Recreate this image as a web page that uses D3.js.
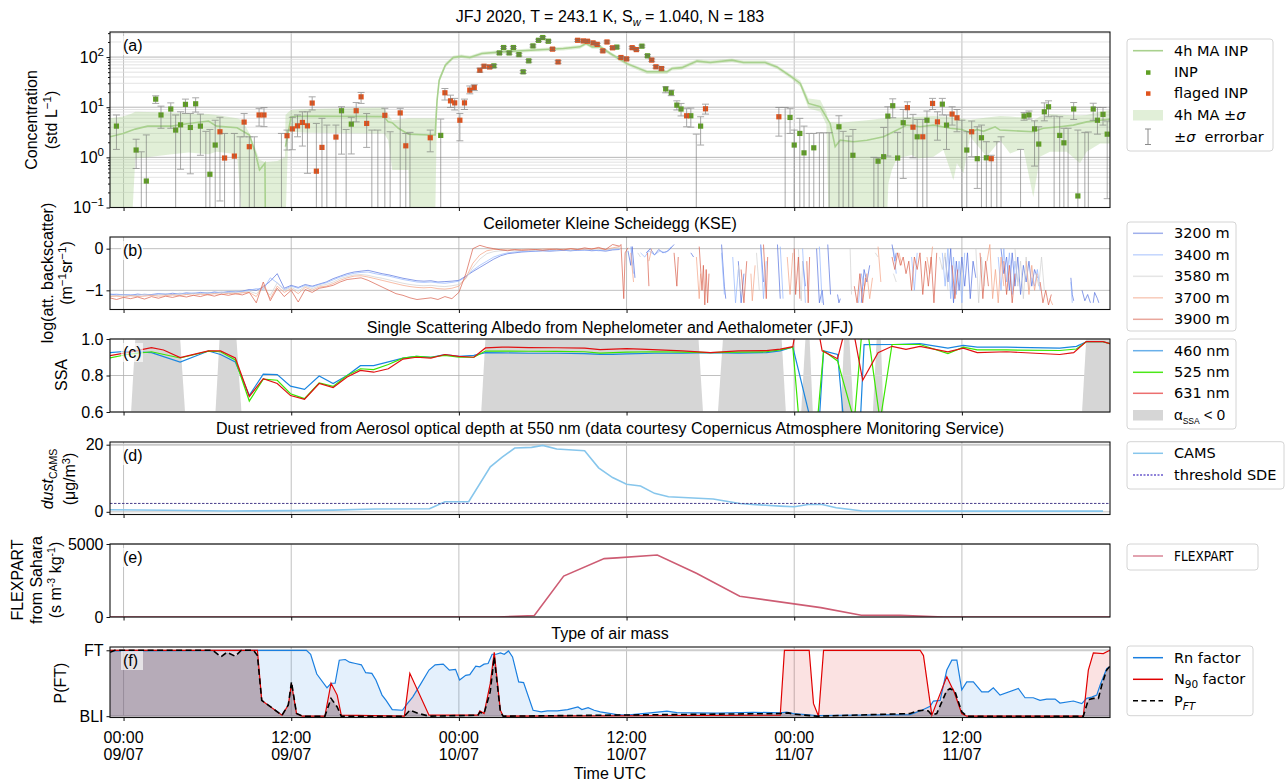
<!DOCTYPE html>
<html><head><meta charset="utf-8">
<script src="https://cdn.jsdelivr.net/npm/d3@7/dist/d3.min.js"></script>
<style>html,body{margin:0;padding:0;background:#fff;}svg{display:block;}</style>
</head><body>
<svg id="chart" width="1287" height="783"></svg>
<script>
// ================= DATA =================
const xTickHours = [0, 12, 24, 36, 48, 60];          // hours after 09/07 00:00 UTC
const xTickTimes = ["00:00","12:00","00:00","12:00","00:00","12:00"];
const xTickDates = ["09/07","09/07","10/07","10/07","11/07","11/07"];

// (a) INP: [hour, conc, low(0 = below axis), high]
const inpPoints = [
[-0.51,4.2,1.44,7.0],[0.9,1.4,0.6,2.3],[1.27,0.05,0,1.29],[1.63,0.337,0,2.8],[2.3,14.5,11.9,16.9],[2.68,7.0,3.8,10.5],
[3.38,9.2,3.8,12.2],[3.73,3.5,0,7.0],[4.08,4.45,0.58,8.1],[4.43,11.4,7.5,14.5],[4.78,3.95,0.47,7.5],[5.16,11.7,8.0,15.4],
[5.5,4.2,1.1,7.3],[5.89,0.05,0,3.3],[6.18,0.46,0,3.6],[6.56,1.76,0,5.5],[15.6,8.5,1.16,10.2],[15.93,0.05,0,3.6],
[16.3,4.6,1.17,6.3],[22.7,2.74,0,5.8],[26.5,66.8,62,71],[26.9,121,114,128],[27.2,155,147,163],[27.6,121,114,128],
[27.9,155,147,163],[28.3,112,105,119],[28.6,50.8,47,54],[29.0,84,79,89],[29.3,167,158,176],[29.7,216,205,227],
[30.0,245,233,257],[30.4,207,196,218],[35.3,158,150,166],[37.1,165,157,173],[37.5,106,100,112],[38.8,23.2,19.4,25.5],
[39.2,19.4,17,22],[39.6,11.0,8.8,13.4],[39.9,9.2,6.7,11.9],[40.6,6.75,4.0,9.6],[40.99,0.05,0,2.9],[41.3,4.2,1.76,6.45],
[47.35,0.05,0,9.9],[47.7,6.25,3.0,9.5],[48.0,1.76,0,3.5],[48.4,3.0,0,6.0],[48.7,1.23,0,4.2],[49.07,0.05,0,3.0],
[49.4,1.55,0,3.0],[49.8,0.05,0,3.1],[50.1,0.05,0,3.1],[50.5,0.05,0,3.1],[51.2,4.07,0,6.75],[51.5,0.05,0,3.3],
[51.9,0.05,0,2.65],[52.2,1.1,0,3.6],[53.7,0.05,0,1.0],[54.0,0.84,0,0.98],[54.4,1.03,0,3.96],[54.7,6.65,1.06,10.2],
[55.05,10.7,6.16,14.7],[55.4,0.97,0,3.15],[55.8,4.9,0.38,9.0],[56.8,2.57,0,5.7],[57.5,5.5,0,8.4],[58.6,11.5,7.0,15.0],
[58.9,4.4,1.44,7.0],[60.0,0.05,0,5.5],[60.35,1.4,0,3.24],[61.1,0.94,0.24,4.07],[61.4,2.46,0,4.4],[61.75,0.98,0,2.05],
[62.5,0.05,0,2.05],[62.8,0.05,0,2.57],[64.2,0.05,0,1.44],[64.45,6.65,5.5,7.8],[64.8,7.0,5.8,8.4],[65.2,3.7,0.67,5.35],
[65.5,1.84,0,4.07],[65.9,8.1,5.35,12.2],[66.2,10.2,6.45,13.4],[66.6,0.05,0,6.65],[67.0,2.74,0,6.45],[67.3,1.95,0,3.8],
[67.6,0.05,0,3.8],[68.0,9.2,5.7,12.4],[68.3,0.17,0,3.5],[68.8,0.05,0,3.15],[69.05,0.05,0,3.2],[69.4,9.2,5.5,12.0],
[69.7,5.5,2.9,9.9],[70.1,7.2,4.4,9.9],[70.4,2.9,0.15,5.3]
];
const flaggedPoints = [
[6.9,3.24,0.135,6.3],[7.23,0.97,0,3.0],[7.93,1.06,0,3.0],[8.34,0.05,0,2.57],[8.63,5.05,2.57,7.5],[9.0,1.63,0,2.57],
[9.36,0.05,0,2.57],[9.7,7.0,4.2,9.5],[10.05,7.0,4.1,9.8],[11.3,0.05,0,3.0],[11.7,2.7,1.4,3.5],[12.08,3.7,1.42,6.3],
[12.45,4.25,2.57,7.0],[12.8,4.97,1.68,8.1],[13.16,4.25,0.48,8.1],[13.5,12.1,8.8,16.1],[13.8,0.53,0,4.75],[14.2,1.58,0,6.0],
[14.55,0.05,0,4.4],[15.2,2.54,0,4.4],[16.65,8.5,5.1,12.4],[17.0,16.1,11.9,19.7],[17.4,4.75,1.58,7.5],[17.77,0.05,0,3.5],
[18.2,0.05,0,3.5],[18.7,6.9,0,9.5],[19.08,0.05,0,3.24],[19.8,7.7,0,9.5],[20.2,1.7,0,3.0],[20.5,0.05,0,3.15],
[21.95,2.46,1.29,3.5],[23.0,19.4,13.9,23.6],[23.4,13.4,9.9,17.4],[23.7,12.2,8.8,15.0],[24.07,5.5,2.14,7.5],[24.4,12.2,9.0,14.5],
[24.78,21.9,18.5,26.5],[25.1,24.8,21.5,28],[25.5,54.6,50,60],[25.8,65.7,61,70],[26.2,63.6,59,68],[30.7,144,136,152],
[31.1,80,75,85],[32.5,216,205,227],[32.9,210,199,221],[33.2,207,196,218],[33.6,192,182,202],[33.9,179,170,188],
[34.3,133,126,140],[34.6,200,190,210],[35.0,153,145,161],[35.6,98,93,103],[36.0,92,87,97],[36.4,154,146,162],
[36.7,141,134,148],[37.8,87,82,92],[38.1,64,60,68],[38.5,59,55,63],[40.3,6.75,4.07,9.5],[41.65,9.3,7.3,11.5],
[46.9,6.45,2.65,9.9],[56.1,9.8,6.0,12.8],[56.5,4.0,0.98,7.2],[57.2,2.57,0,5.7],[57.9,11.9,9.0,15.0],[58.25,5.1,2.2,8.1],
[59.3,7.3,4.4,10.2],[59.65,6.16,3.24,9.0],[60.7,3.24,1.03,5.3],[62.1,0.94,0,1.1]
];
// 4h moving average [hour, value]; null = gap
const maLine = [
[-0.97,2.57],[-0.04,3.0],[0.84,3.66],[1.72,4.2],[3.46,4.2],[4.64,4.75],[6.08,5.3],[6.65,4.2],[8.13,3.9],[9.01,2.78],
[9.44,1.2],[9.73,0.56],[10.12,0.76],[10.15,0.05],null,[11.59,1.63],[11.99,6.45],[13.09,6.65],[18.65,6.5],[18.94,5.1],
[19.23,4.9],[19.67,3.8],[20.39,2.9],[21.86,2.8],[22.3,2.8],[22.44,13.9],[22.59,34.7],[23.03,68.6],[23.6,98],[24.18,104],
[24.78,98],[25.65,118],[27.11,127],[29.16,137],[31.47,148],[32.66,160],[33.1,187],[33.53,160],[34.12,160],[34.84,118],
[36.03,74],[37.46,50.8],[38.89,50.8],[39.25,59],[39.96,61.5],[41.04,83],[41.99,78],[43.54,87],[44.37,78],[45.92,78],
[46.76,63.6],[47.83,40],[48.43,29.8],[49.02,11.9],[49.86,10.2],[50.57,4.75],[50.93,1.63],[51.29,2.2],[52.24,2.05],[53.2,2.2],
[54.39,2.57],[54.86,3.0],[56.06,4.4],[57.01,4.07],[57.96,4.4],[59.16,3.8],[59.99,3.6],[60.59,3.1],[61.07,3.6],[61.54,3.3],
[62.38,4.07],[62.73,3.5],[65.11,3.24],[65.83,3.8],[67.02,4.07],[67.98,4.4],[68.93,5.1],[70.36,5.7],[70.6,5.8]
];
// 4h MA ± sigma [hour, low, high]
const maBand = [
[-0.97,0.05,6.0],[-0.04,0.05,6.5],[0.6,0.05,7.5],[0.84,0.95,8.1],[1.72,1.0,8.0],[3.46,1.15,7.8],[4.64,1.25,7.5],[6.08,1.15,7.3],
[6.65,1.3,7.0],[8.13,1.15,6.0],[8.5,0.05,5.5],[9.01,0.05,3.0],[9.44,0.05,1.5],[9.73,0.05,0.9],[10.12,0.05,0.8],[11.0,0.05,0.85],
[11.55,0.05,1.0],[11.59,0.05,7.0],[11.8,3.24,8.0],[11.99,3.24,8.8],[13.09,3.1,9.2],[18.65,3.0,9.9],[18.94,2.2,7.0],[19.23,0.56,5.5],
[20.39,0.56,6.0],[20.5,0.05,6.0],[22.3,0.05,6.0],[22.44,11,17],[22.59,30,40],[23.03,62,76],[23.6,90,106],[24.18,96,113],
[24.78,90,106],[25.65,109,128],[27.11,117,138],[29.16,126,149],[31.47,136,161],[32.66,147,174],[33.1,172,203],[33.53,147,174],
[34.12,147,174],[34.84,108,128],[36.03,68,80],[37.46,46,55],[38.89,46,55],[39.25,54,64],[39.96,56,67],[41.04,76,90],
[41.99,72,85],[43.54,80,94],[44.37,72,85],[45.92,72,85],[46.76,58,69],[47.83,36,44],[48.43,26,34],[49.02,9.5,15],
[49.86,8.1,13.9],[50.3,4.5,8],[50.47,0.05,5.1],[51.29,0.05,4.9],[53.2,0.05,5.5],[54.39,0.05,6.0],[54.63,0.05,6.1],[54.74,0.3,6.15],
[54.99,0.56,6.2],[55.34,0.95,6.25],[56.42,1.11,6.4],[56.89,0.95,6.45],[57.96,1.03,6.65],[58.68,1.4,6.55],[59.16,0.56,6.45],[59.39,0.35,6.3],
[59.64,0.76,6.1],[60.11,0.48,5.9],[60.59,2.57,5.6],[61.78,1.03,6.2],[62.73,2.2,6.7],[63.45,1.2,6.5],[64.4,1.5,6.2],[65.11,0.16,5.5],
[65.59,1.03,6.5],[66.3,1.29,7.3],[67.5,1.29,7.0],[68.45,0.76,6.8],[68.93,1.29,7.0],[69.89,1.9,8.1],[70.6,1.9,8.8]
];

// (b) ceilometer log(att. backscatter), regular 0.5 h samples from hour -1, then fragmented cloud-affected parts
const ceilStart = -1, ceilStep = 0.5;
const ceil3200 = [-1.09,-1.11,-1.10,-1.12,-1.09,-1.11,-1.10,-1.08,-1.10,-1.07,-1.09,-1.06,-1.08,-1.05,-1.07,-1.04,-1.06,-1.03,-1.04,-1.02,
-0.98,-1.00,-0.92,-0.78,-0.60,-0.95,-0.88,-0.93,-0.86,-0.90,-0.85,-0.80,-0.72,-0.66,-0.60,-0.56,-0.54,-0.52,-0.56,-0.60,
-0.63,-0.67,-0.71,-0.74,-0.77,-0.78,-0.77,-0.80,-0.79,-0.78,-0.76,-0.66,-0.55,-0.45,-0.35,-0.25,-0.17,-0.12,-0.10,-0.08,
-0.07,-0.06,-0.05,-0.06,-0.05,-0.04,-0.05,-0.04,-0.03,-0.05,-0.04,-0.06,-0.03,-0.02];
const ceil3400 = [-1.10,-1.09,-1.11,-1.10,-1.12,-1.09,-1.11,-1.09,-1.08,-1.10,-1.07,-1.08,-1.06,-1.07,-1.05,-1.06,-1.04,-1.05,-1.02,-1.03,
-1.00,-0.96,-0.98,-0.70,-0.82,-0.98,-0.90,-0.95,-0.88,-0.92,-0.86,-0.82,-0.75,-0.68,-0.63,-0.59,-0.57,-0.56,-0.60,-0.63,
-0.66,-0.70,-0.74,-0.77,-0.80,-0.81,-0.80,-0.82,-0.83,-0.81,-0.78,-0.68,-0.52,-0.40,-0.30,-0.20,-0.14,-0.10,-0.08,-0.07,
-0.06,-0.06,-0.05,-0.05,-0.04,-0.04,-0.05,-0.03,-0.04,-0.03,-0.05,-0.04,-0.02,-0.01];
const ceil3580 = [-1.12,-1.13,-1.11,-1.13,-1.12,-1.10,-1.12,-1.11,-1.09,-1.11,-1.08,-1.10,-1.07,-1.09,-1.06,-1.08,-1.05,-1.07,-1.04,-1.05,
-1.02,-1.08,-0.94,-1.12,-0.82,-1.00,-0.93,-1.02,-0.90,-0.96,-0.89,-0.86,-0.80,-0.72,-0.67,-0.63,-0.62,-0.64,-0.68,-0.71,
-0.75,-0.79,-0.83,-0.86,-0.88,-0.89,-0.88,-0.90,-0.91,-0.89,-0.86,-0.72,-0.45,-0.25,-0.12,-0.07,-0.05,-0.04,-0.05,-0.04,
-0.03,-0.04,-0.03,-0.02,-0.03,-0.02,-0.03,-0.02,-0.01,-0.02,-0.01,-0.03,0.00,0.02];
const ceil3700 = [-1.15,-1.14,-1.16,-1.13,-1.15,-1.14,-1.12,-1.14,-1.13,-1.11,-1.13,-1.10,-1.12,-1.09,-1.11,-1.08,-1.10,-1.07,-1.09,-1.06,
-1.05,-1.15,-0.88,-1.20,-0.90,-1.05,-0.96,-1.08,-0.93,-1.00,-0.92,-0.90,-0.84,-0.76,-0.70,-0.66,-0.65,-0.68,-0.72,-0.76,
-0.80,-0.84,-0.88,-0.91,-0.93,-0.94,-0.93,-0.96,-0.97,-0.95,-0.90,-0.70,-0.35,-0.15,-0.05,-0.02,-0.02,-0.01,-0.03,-0.02,
-0.01,-0.02,-0.01,0.00,-0.02,-0.01,0.00,-0.02,-0.01,0.00,0.01,-0.02,0.02,0.05];
const ceil3900 = [-1.18,-1.22,-1.17,-1.20,-1.16,-1.21,-1.15,-1.19,-1.14,-1.17,-1.13,-1.16,-1.12,-1.15,-1.10,-1.14,-1.09,-1.12,-1.08,-1.11,
-1.05,-1.30,-0.80,-1.25,-0.95,-1.15,-1.00,-1.28,-0.98,-1.05,-0.95,-0.92,-0.88,-0.80,-0.74,-0.72,-0.70,-0.76,-0.84,-0.92,
-1.00,-1.08,-1.12,-1.18,-1.22,-1.20,-1.18,-1.22,-1.15,-1.20,-1.05,-0.60,0.00,0.08,0.03,0.00,-0.03,-0.05,-0.02,-0.04,
-0.03,-0.02,-0.04,-0.02,-0.01,-0.03,0.00,-0.02,0.02,-0.01,0.03,-0.02,0.10,0.06];
const ceilFrag3200 = [[36.1,-0.05],[36.3,-0.4],[36.4,0.05],[36.6,-0.7],null,[37.4,-0.1],[37.7,0.0],[38.0,-0.15],[38.3,-0.02],[38.6,-0.1],[39.0,-0.05],[39.4,0.1],null,
[40.6,-0.1],[40.8,-0.2],null,[42.8,0.1],[43.0,-0.9],[43.1,-1.2],null,[44.0,-0.3],[44.2,-1.3],[44.4,-0.6],null,[45.6,0.1],[45.8,-0.8],null,[46.8,0.1],[47.0,-1.2],null,
[48.6,-0.3],[48.8,-0.9],null,[49.6,0.0],[49.8,-1.3],[50.0,-1.0],[50.1,-1.35],null,[50.4,0.1],[50.6,-1.1],null,[51.1,-1.1],[51.2,-1.3],[51.3,-1.2],null,
[52.8,-1.3],[53.0,-0.5],[53.2,-0.8],[53.4,-0.4],null,[55.0,0.1],[55.2,-0.3],[55.3,-0.1],null,
[58.8,-0.2],[59.0,-0.8],[59.2,0.0],[59.4,-1.3],[59.6,-0.3],[59.8,-1.0],[60.0,-0.2],[60.2,-0.9],[60.4,-0.1],[60.6,-1.2],[60.8,-0.3],[61.0,-0.7],null,
[62.8,0.0],[63.0,-0.6],[63.2,-0.2],[63.4,-1.0],[63.6,-0.1],[63.8,-0.9],[64.0,-0.2],[64.2,-1.1],[64.4,-0.4],[64.6,-0.8],[64.8,-0.3],[65.0,-0.9],[65.2,-0.5],[65.4,-0.7],null,
[67.8,-0.7],[67.9,-1.1],[68.0,-1.25],null,[68.6,-1.0],[68.8,-1.25],[69.0,-1.1],[69.2,-1.3],null,[69.4,-1.3],[69.5,-1.05],[69.7,-1.2],[69.8,-1.3]];
const ceilFrag3400 = [[36.3,0.05],[36.5,-0.6],null,[37.0,-0.1],[37.3,-0.2],[37.6,-0.05],[38.0,-0.15],[38.4,-0.05],[38.8,-0.1],[39.2,0.05],null,
[42.8,-0.1],[43.0,-1.1],null,[43.6,-0.2],[43.8,-1.3],[44.0,-0.5],null,[45.6,0.05],[45.8,-1.2],[46.0,-0.3],null,[47.0,0.05],[47.2,-1.2],null,
[48.6,0.0],[48.8,-1.3],null,[49.8,0.05],[50.0,-1.3],null,[52.6,-1.3],[52.8,-0.6],[53.0,-0.9],null,[55.1,0.0],[55.3,-0.6],null,
[56.4,-0.2],[56.6,-1.0],[56.8,-0.1],null,[58.6,-0.1],[58.8,-0.9],[59.0,0.0],[59.2,-1.2],[59.4,-0.2],[59.6,-1.1],[59.8,-0.3],[60.0,-1.3],[60.2,-0.1],null,
[62.6,-0.2],[62.8,-1.0],[63.0,0.0],[63.2,-0.8],[63.4,-0.1],[63.6,-1.1],[63.8,-0.3],[64.0,-0.8],null,[65.0,-0.7],[65.2,-0.9],[65.4,-0.5],[65.6,-1.0],null,
[67.8,-0.8],[67.9,-1.3]];
const ceilFrag3580 = [[36.8,-0.1],[37.0,-0.2],null,[44.0,-0.4],[44.2,-1.1],null,[45.3,-0.1],[45.5,-1.0],null,[48.3,0.0],[48.5,-1.25],[48.6,-0.3],null,
[52.0,0.0],[52.1,-1.1],null,[53.8,-0.1],[54.0,-0.2],null,[55.1,-0.6],[55.3,-0.8],null,[58.4,-0.2],[58.6,-0.5],[58.8,-0.1],[59.0,-1.0],null,
[61.0,0.0],[61.2,-1.3],[61.4,-0.2],[61.6,-0.9],null,[63.8,0.0],[64.0,-0.9],[64.2,-0.3],[64.4,-1.2],[64.6,-0.2],[64.8,-1.0],null,
[65.3,-0.6],[65.5,-0.9],[65.7,-0.2],[65.9,-1.0]];
const ceilFrag3700 = [[36.3,-0.1],[36.5,-0.8],null,[37.6,-0.3],[37.8,0.0],null,[41.0,-0.2],[41.2,-1.2],[41.3,-0.6],null,[44.9,-0.6],[45.0,-1.25],[45.2,-0.4],null,
[47.5,-0.2],[47.7,-1.1],[47.9,-0.1],null,[53.0,-1.0],[53.2,-0.6],[53.4,-1.2],[53.6,-0.7],null,[54.0,0.05],[54.2,-0.8],null,[55.5,-0.1],[55.7,-0.4],null,
[57.5,-0.2],[57.7,-0.6],[57.9,0.05],null,[61.8,-0.3],[62.0,0.1],[62.2,-1.2],[62.4,-0.5],[62.6,-1.3],[62.8,-0.2],[63.0,-0.9],null,
[64.6,-0.3],[64.8,-1.1],[65.0,-0.4],[65.2,-1.0],[65.4,-0.6],null,[66.3,-1.2],[66.5,-1.35]];
const ceilFrag3900 = [[35.5,0.06],[35.6,0.1],[35.8,-1.2],[35.9,-0.1],[36.1,0.02],null,[37.5,-0.1],[37.6,-0.9],null,[39.4,-0.1],[39.6,-0.9],[39.7,-0.2],null,
[41.2,0.05],[41.4,-1.0],[41.5,-0.4],[41.6,-1.35],[41.7,-0.5],[41.8,-1.3],[41.9,-0.6],null,[44.2,-0.5],[44.4,-1.3],[44.6,-0.3],null,
[45.8,0.1],[46.0,-1.2],[46.1,-0.2],null,[48.0,0.0],[48.1,-1.1],[48.3,-0.2],[48.4,-1.2],null,[48.9,-0.3],[49.0,-1.3],[49.1,-0.2],null,
[52.3,-0.9],[52.5,-1.3],[52.7,-0.6],[52.9,-1.3],[53.1,-0.7],null,
[55.0,-0.2],[55.2,-0.5],[55.4,-0.1],[55.6,-0.4],[55.8,-0.2],[56.0,-0.6],[56.2,-0.3],[56.4,-1.0],[56.6,-0.2],[56.8,-0.5],[57.0,-0.1],[57.2,-1.1],[57.4,-0.3],[57.6,-0.9],[57.8,-0.2],[58.0,-1.3],[58.2,-0.1],null,
[59.3,-0.4],[59.5,-1.2],[59.7,-0.5],null,[61.3,-0.1],[61.5,-1.2],[61.7,-0.3],[61.9,-0.9],null,[63.0,-0.3],[63.2,-1.1],[63.4,-0.4],[63.6,-1.3],[63.8,-0.6],null,
[65.6,-0.8],[65.8,-1.3],[66.0,-1.0],[66.2,-1.35],[66.4,-1.1]];
const ceilHeights = ["3200 m","3400 m","3580 m","3700 m","3900 m"];

// (c) SSA [hour, value]; alpha_SSA<0 periods [bottom start, top start, top end, bottom end]
const ssa460 = [[-0.97,0.925],[0.25,0.933],[2.0,0.925],[4.05,0.874],[6.08,0.934],[6.94,0.915],[8.0,0.874],[9.0,0.691],[10.0,0.807],[11.0,0.805],
[11.95,0.742],[12.95,0.724],[14.0,0.797],[15.0,0.756],[16.0,0.80],[16.95,0.854],[17.9,0.854],[18.95,0.875],[20.0,0.895],[20.96,0.905],[22.0,0.90],
[23.0,0.915],[24.0,0.905],[25.07,0.91],[25.9,0.925],[27.1,0.924],[29,0.922],[31,0.922],[33,0.92],[34.1,0.916],[35,0.916],[36.0,0.918],[38,0.922],
[40,0.922],[42,0.925],[44,0.923],[46,0.925],[47.0,0.935],[47.9,0.956],[49.35,0.5],[49.75,0.5],[50.1,0.935],[51.1,0.915],[51.6,0.5],[52.7,0.5],
[53.0,0.969],[55.1,0.97],[57.0,0.975],[59.0,0.95],[60.1,0.965],[61.1,0.955],[63.2,0.955],[67.0,0.95],[68.2,0.96],[68.9,0.985],[70.1,0.985],[70.6,0.975]];
const ssa525 = [[-0.97,0.896],[0.25,0.915],[2.0,0.93],[4.05,0.896],[6.08,0.934],[6.94,0.93],[8.0,0.885],[9.0,0.66],[10.0,0.78],[11.0,0.774],
[11.95,0.70],[12.95,0.673],[14.0,0.76],[15.0,0.74],[16.0,0.80],[16.95,0.837],[17.9,0.832],[18.95,0.86],[20.0,0.895],[20.96,0.905],[22.0,0.90],
[23.0,0.91],[24.0,0.9],[25.07,0.90],[25.9,0.934],[27.1,0.934],[29,0.933],[31,0.932],[33,0.93],[34.1,0.923],[36.0,0.928],[38,0.93],[40,0.928],
[42,0.925],[44,0.928],[46,0.93],[47.0,0.94],[47.9,0.955],[48.4,0.5],[49.6,0.5],[50.1,0.935],[51.1,0.88],[52.3,0.55],[52.85,1.05],[53.25,1.05],
[54.15,0.55],[55.0,0.97],[57.0,0.97],[59.0,0.92],[60.1,0.955],[61.1,0.94],[63.2,0.94],[67.0,0.937],[68.2,0.945],[68.9,0.985],[70.1,0.985],[70.6,0.975]];
const ssa631 = [[-0.97,0.909],[0.25,0.925],[2.0,0.953],[2.86,0.94],[4.05,0.898],[6.08,0.935],[6.94,0.935],[8.0,0.896],[9.0,0.685],[10.0,0.783],
[11.0,0.756],[11.95,0.69],[12.95,0.67],[14.0,0.756],[15.0,0.734],[16.0,0.792],[16.95,0.828],[17.9,0.818],[18.95,0.837],[20.0,0.89],[20.96,0.90],
[22.0,0.895],[23.0,0.915],[24.0,0.905],[25.07,0.90],[25.9,0.951],[27.1,0.956],[29,0.953],[31,0.952],[33,0.95],[34.1,0.942],[36.0,0.947],[37.0,0.945],
[40,0.935],[42,0.925],[44,0.935],[46,0.936],[47.0,0.945],[47.9,0.958],[48.2,1.1],[49.6,1.1],[50.0,0.935],[51.1,0.892],[51.8,1.1],[52.1,1.1],
[52.9,0.774],[54.0,0.925],[55.0,0.96],[56.0,0.943],[57.0,0.96],[59.0,0.93],[60.1,0.95],[61.1,0.925],[63.2,0.93],[67.0,0.915],[68.0,0.925],
[68.9,0.986],[70.1,0.986],[70.6,0.975]];
const ssaNegative = [[0.54,0.84,4.05,4.4],[6.58,6.87,8.08,8.44],[25.6,25.9,41.15,41.47],[42.54,42.9,47.1,47.4],[48.5,48.8,49.1,49.33],
[51.34,51.57,51.95,52.24],[53.63,53.9,54.2,54.38],[68.6,68.9,70.7,70.7]];

// (d) CAMS dust [hour, ug/m3]
const camsDust = [[-0.97,0.6],[3,0.45],[7.5,0.25],[12,0.35],[15,0.5],[18,0.85],[21.9,0.9],[23.0,3.0],[24.7,3.0],[26.25,13.4],[27.1,16.3],
[28.0,19.0],[29.2,19.2],[30.0,19.8],[31.0,18.7],[33.0,18.2],[34.0,13.1],[35.0,10.2],[36.0,8.2],[37.0,7.7],[38.0,5.5],[39.0,4.5],[42.2,3.8],
[44.1,2.5],[45.0,2.2],[47.0,1.7],[48.0,1.5],[49.0,2.2],[50.0,2.2],[51.0,1.2],[52.9,0.25],[60,0.2],[70.1,0.2]];
const thresholdSDE = 2.5;

// (e) FLEXPART from Sahara [hour, s m-3 kg-1]
const flexpart = [[-0.97,0],[2,0],[5,0],[8,0],[11,0],[14,0],[17,0],[20,0],[23,0],[26.8,0],[29.4,100],[31.5,2800],[34.4,4000],[35.3,4050],
[38.2,4250],[41.0,3000],[44.1,1420],[49.9,640],[52.8,120],[55.6,110],[58.7,0],[62,0],[65,0],[68,0],[70.6,0]];

// (f) air mass type probabilities [hour, P(FT)]
const rnFactor = [[-0.97,0.99],[13.09,1.0],[13.39,0.94],[13.83,0.64],[14.56,0.43],[14.85,0.5],[15.14,0.5],[15.44,0.85],[15.87,0.86],[16.17,0.82],
[16.6,0.8],[17.02,0.78],[17.33,0.66],[17.77,0.65],[18.06,0.55],[18.5,0.32],[18.79,0.24],[19.23,0.1],[19.96,0.09],[20.24,0.17],[20.69,0.29],
[21.27,0.49],[21.86,0.7],[22.3,0.78],[22.88,0.79],[23.32,0.7],[23.76,0.71],[24.05,0.55],[24.49,0.62],[24.78,0.63],[25.21,0.76],[25.5,0.75],
[25.8,0.79],[26.09,0.8],[26.38,0.94],[26.67,0.94],[26.97,0.96],[27.25,0.94],[27.55,0.99],[27.84,0.9],[28.28,0.52],[28.63,0.51],[29.31,0.09],
[29.89,0.066],[30.33,0.08],[31.04,0.08],[31.78,0.1],[32.52,0.14],[32.8,0.1],[33.25,0.13],[33.68,0.09],[34.12,0.066],[35.31,0.025],[36.0,0.015],
[37.7,0.05],[38.89,0.076],[39.6,0.055],[42.47,0.045],[45.09,0.06],[47.0,0.05],[47.47,0.06],[47.95,0.04],[49.62,0.01],[56.3,0.025],[57.13,0.09],
[57.73,0.15],[57.96,0.23],[58.44,0.24],[58.92,0.7],[59.28,0.85],[59.64,0.85],[59.99,0.4],[60.35,0.52],[60.82,0.52],[61.42,0.37],[61.9,0.37],
[62.25,0.43],[62.73,0.32],[64.04,0.42],[64.52,0.28],[65.11,0.28],[65.59,0.24],[66.07,0.26],[66.67,0.26],[67.02,0.2],[67.98,0.23],[68.58,0.19],
[68.93,0.27],[69.29,0.29],[69.65,0.32],[69.89,0.47],[70.36,0.72],[70.6,0.75]];
const n90Factor = [[-0.97,1.0],[9.58,1.0],[9.89,0.24],[11.34,0.015],[11.79,0.17],[12.02,0.49],[12.38,0.04],[12.8,0],[14.41,0],[14.85,0.5],
[15.29,0.32],[15.58,0.015],[20.1,0],[20.49,0.65],[21.86,0.015],[25.36,0.015],[25.5,0.08],[25.8,0.04],[26.24,0.49],[26.53,0.97],[26.97,0.09],
[27.17,0],[47.0,0.015],[47.3,1.0],[49.07,1.0],[49.38,0.19],[49.74,0],[50.1,1.0],[57.01,1.0],[57.25,0.92],[57.85,0.015],[58.92,0.6],[59.28,0.44],
[59.39,0.4],[59.99,0.04],[60.35,0],[68.69,0],[69.05,0.7],[69.41,0.96],[70.12,0.95],[70.48,0.99],[70.6,1.0]];
const pFT = [[-0.97,0.97],[-0.62,1.0],[6.38,1.0],[6.97,0.9],[7.4,0.97],[7.99,0.91],[8.43,1.0],[9.3,1.0],[9.58,0.92],[9.89,0.24],[11.34,0.015],
[11.79,0.17],[12.02,0.52],[12.38,0.04],[12.8,0],[14.41,0],[14.85,0.27],[15.29,0.14],[15.58,0],[20.1,0],[20.49,0.09],[21.13,0.04],[21.86,0],
[25.36,0.015],[25.5,0.06],[25.8,0.04],[26.24,0.37],[26.53,0.9],[26.97,0.066],[27.17,0],[47.0,0.04],[47.59,0.05],[47.95,0.03],[49.62,0],[56.3,0.04],
[56.78,0.08],[57.25,0.09],[57.6,0.08],[57.85,0.015],[58.2,0.04],[58.92,0.39],[59.16,0.42],[59.51,0.37],[59.99,0.066],[60.35,0],[68.69,0],
[69.05,0.25],[69.41,0.27],[69.77,0.27],[70.01,0.47],[70.36,0.7],[70.6,0.76]];

// ================= DRAWING =================
const svg = d3.select('#chart');
const FONT = "'Liberation Sans', Arial, Helvetica, sans-serif";
const LFONT = "'DejaVu Sans', Verdana, sans-serif";
const X0 = 110, X1 = 1110;
const x = d3.scaleLinear().domain([-0.97, 70.6]).range([X0, X1]);
const defs = svg.append('defs');
const P = {a:[32,207.5], b:[237,309.5], c:[339,412], d:[442,514.5], e:[544,617], f:[647,717.5]};

const ya = d3.scaleLog().domain([0.1, Math.pow(10,2.5)]).range([P.a[1], P.a[0]]);
const yb = d3.scaleLinear().domain([-1.46,0.28]).range([P.b[1],P.b[0]]);
const yc = d3.scaleLinear().domain([0.6,1.0]).range([P.c[1],P.c[0]]);
const yd = d3.scaleLinear().domain([-0.8,20.8]).range([P.d[1],P.d[0]]);
const ye = d3.scaleLinear().domain([0,5000]).range([P.e[1],P.e[0]]);
const yf = d3.scaleLinear().domain([-0.02,1.05]).range([P.f[1],P.f[0]]);

function setupPanel(key){
  const [t,b] = P[key];
  defs.append('clipPath').attr('id','clip-'+key).append('rect')
    .attr('x',X0).attr('y',t).attr('width',X1-X0).attr('height',b-t);
  const g = svg.append('g');
  const grid = g.append('g');
  grid.selectAll(null).data(xTickHours).join('line')
    .attr('x1',d=>x(d)).attr('x2',d=>x(d)).attr('y1',t).attr('y2',b)
    .attr('stroke','#b0b0b0').attr('stroke-width',0.8);
  const plot = g.append('g').attr('clip-path',`url(#clip-${key})`);
  return {g,grid,plot,t,b};
}
function hGrid(p, yS, vals, color, w){
  p.grid.selectAll(null).data(vals).join('line')
    .attr('x1',X0).attr('x2',X1).attr('y1',d=>yS(d)).attr('y2',d=>yS(d))
    .attr('stroke',color).attr('stroke-width',w);
}
function finishPanel(p){
  p.g.append('rect').attr('x',X0).attr('y',p.t).attr('width',X1-X0).attr('height',p.b-p.t)
    .attr('fill','none').attr('stroke','#111').attr('stroke-width',1.1);
  const ax = p.g.append('g').attr('transform',`translate(0,${p.b})`)
    .call(d3.axisBottom(x).tickValues(xTickHours).tickSize(3.5).tickFormat(''));
  ax.select('.domain').remove();
  ax.selectAll('line').attr('stroke','#111');
}
function yAxis(p, yS, vals, fmt, size){
  const ax = p.g.append('g').attr('transform',`translate(${X0},0)`)
    .call(d3.axisLeft(yS).tickValues(vals).tickSize(size||3.5).tickPadding(3).tickFormat(fmt));
  ax.select('.domain').remove();
  ax.selectAll('line').attr('stroke','#111');
  ax.selectAll('text').attr('font-family',FONT).attr('font-size',16).attr('fill','#000');
  return ax;
}
function panelLetter(p, s){
  p.g.append('rect').attr('x',X0+11).attr('y',p.t+4).attr('width',22).attr('height',19)
    .attr('fill','#fff').attr('opacity',0.65);
  p.g.append('text').attr('x',X0+13).attr('y',p.t+19).attr('font-family',FONT).attr('font-size',16).text(s);
}
function yLabel(cx, cy, build){
  const t = svg.append('text').attr('transform',`translate(${cx},${cy}) rotate(-90)`)
    .attr('text-anchor','middle').attr('dy','0.35em').attr('font-family',FONT).attr('font-size',16);
  build(t);
}
function title(y, build){
  const t = svg.append('text').attr('x',(X0+X1)/2).attr('y',y).attr('text-anchor','middle')
    .attr('font-family',FONT).attr('font-size',16);
  build(t);
}
const lineXY = (yS) => d3.line().defined(d=>d!==null).x(d=>x(d[0])).y(d=>yS(d[1]));

// ---------- Titles ----------
title(22, t=>{ t.append('tspan').text('JFJ 2020, T = 243.1 K, S');
  t.append('tspan').attr('dy',4).attr('font-size',11).attr('font-style','italic').text('w');
  t.append('tspan').attr('dy',-4).text(' = 1.040, N = 183'); });
title(229, t=>t.text('Ceilometer Kleine Scheidegg (KSE)'));
title(332.5, t=>t.text('Single Scattering Albedo from Nephelometer and Aethalometer (JFJ)'));
title(433.5, t=>t.text('Dust retrieved from Aerosol optical depth at 550 nm (data courtesy Copernicus Atmosphere Monitoring Service)'));
title(639, t=>t.text('Type of air mass'));

// ---------- Panel (a) ----------
const pa = setupPanel('a');
const majorA = [0.1,1,10,100];
const minorA = [];
[-1,0,1,2].forEach(e=>{ for(let k=2;k<=9;k++){ const v=k*Math.pow(10,e); if(v<Math.pow(10,2.5)) minorA.push(v);} });
hGrid(pa, ya, minorA, '#dcdcdc', 0.8);
hGrid(pa, ya, majorA, '#b8b8b8', 1.0);
pa.plot.append('path').datum(maBand)
  .attr('d', d3.area().x(d=>x(d[0])).y0(d=>ya(d[1])).y1(d=>ya(d[2])))
  .attr('fill','#a9d18e').attr('opacity',0.35);
pa.plot.append('path').datum(maLine).attr('d', lineXY(ya))
  .attr('fill','none').attr('stroke','#a9d18e').attr('stroke-width',1.6);
function markers(data, color){
  pa.plot.selectAll(null).data(data).join('rect')
    .attr('x',d=>x(d[0])-2.6).attr('y',d=>ya(d[1])-2.6).attr('width',5.2).attr('height',5.2)
    .attr('fill',color);
}
markers(inpPoints, '#5f9f24');
markers(flaggedPoints, '#e0531d');
const allPts = inpPoints.concat(flaggedPoints);
const eb = pa.plot.append('g').attr('stroke','#6f6f6f').attr('stroke-width',1).attr('opacity',0.6);
eb.selectAll(null).data(allPts).join('line')
  .attr('x1',d=>x(d[0])).attr('x2',d=>x(d[0])).attr('y1',d=>ya(Math.max(d[2],0.05))).attr('y2',d=>ya(d[3]));
eb.selectAll(null).data(allPts).join('line')
  .attr('x1',d=>x(d[0])-3.5).attr('x2',d=>x(d[0])+3.5).attr('y1',d=>ya(d[3])).attr('y2',d=>ya(d[3]));
eb.selectAll(null).data(allPts.filter(d=>d[2]>0)).join('line')
  .attr('x1',d=>x(d[0])-3.5).attr('x2',d=>x(d[0])+3.5).attr('y1',d=>ya(d[2])).attr('y2',d=>ya(d[2]));
finishPanel(pa);
yAxis(pa, ya, minorA, '', 2);
yAxis(pa, ya, majorA, '');
const expA = ['−1','0','1','2'];
majorA.forEach((v,i)=>{
  const t = pa.g.append('text').attr('x',X0-6).attr('y',ya(v)).attr('dy','0.35em').attr('text-anchor','end')
    .attr('font-family',FONT).attr('font-size',16);
  t.append('tspan').text('10');
  t.append('tspan').attr('dy',-7).attr('font-size',11.5).text(expA[i]);
});
panelLetter(pa,'(a)');
yLabel(31, 120, t=>t.text('Concentration'));
yLabel(51, 120, t=>{ t.append('tspan').text('(std L'); t.append('tspan').attr('dy',-6).attr('font-size',11.5).text('−1');
  t.append('tspan').attr('dy',6).text(')'); });

// ---------- Panel (b) ----------
const pb = setupPanel('b');
hGrid(pb, yb, [0,-1], '#b0b0b0', 0.8);
const ceilColors = ['#5470de','#93b5fe','#d0d0d0','#f4a384','#d8604c'];
const ceilLeft = [ceil3200, ceil3400, ceil3580, ceil3700, ceil3900];
const ceilFrags = [ceilFrag3200, ceilFrag3400, ceilFrag3580, ceilFrag3700, ceilFrag3900];
ceilLeft.forEach((vals,i)=>{
  const pts = vals.map((v,j)=>[ceilStart+j*ceilStep, v]).concat([null], ceilFrags[i]);
  pb.plot.append('path').datum(pts).attr('d', lineXY(yb))
    .attr('fill','none').attr('stroke',ceilColors[i]).attr('stroke-width',1).attr('opacity',0.7);
});
finishPanel(pb);
yAxis(pb, yb, [0,-1], d=> d===0 ? '0' : '−1');
panelLetter(pb,'(b)');
yLabel(47, 273, t=>t.text('log(att. backscatter)'));
yLabel(66, 273, t=>{ t.append('tspan').text('(m'); t.append('tspan').attr('dy',-6).attr('font-size',11.5).text('−1');
  t.append('tspan').attr('dy',6).text('sr'); t.append('tspan').attr('dy',-6).attr('font-size',11.5).text('−1');
  t.append('tspan').attr('dy',6).text(')'); });

// ---------- Panel (c) ----------
const pc = setupPanel('c');
hGrid(pc, yc, [0.6,0.8,1.0], '#b0b0b0', 0.8);
pc.plot.selectAll(null).data(ssaNegative).join('path')
  .attr('d', d=>`M${x(d[0])},${yc(0.6)}L${x(d[1])},${yc(1.0)}L${x(d[2])},${yc(1.0)}L${x(d[3])},${yc(0.6)}Z`)
  .attr('fill','#d6d6d6');
[[ssa460,'#1a86e0'],[ssa525,'#39e600'],[ssa631,'#e01010']].forEach(([s,c])=>{
  pc.plot.append('path').datum(s).attr('d', lineXY(yc)).attr('fill','none').attr('stroke',c).attr('stroke-width',1.2);
});
finishPanel(pc);
yAxis(pc, yc, [0.6,0.8,1.0], d3.format('.1f'));
panelLetter(pc,'(c)');
yLabel(61, 375, t=>t.text('SSA'));

// ---------- Panel (d) ----------
const pd = setupPanel('d');
hGrid(pd, yd, [0], '#b8b8b8', 0.8);
hGrid(pd, yd, [20], '#c8c8c8', 2);
pd.plot.append('path').datum(camsDust).attr('d', lineXY(yd)).attr('fill','none').attr('stroke','#87c6ec').attr('stroke-width',1.6);
pd.plot.append('line').attr('x1',X0).attr('x2',X1).attr('y1',yd(thresholdSDE)).attr('y2',yd(thresholdSDE))
  .attr('stroke','#483d8b').attr('stroke-width',1).attr('stroke-dasharray','2.5,1.5');
finishPanel(pd);
yAxis(pd, yd, [0,20], d3.format('d'));
panelLetter(pd,'(d)');
yLabel(47, 479, t=>{ t.append('tspan').attr('font-style','italic').text('dust');
  t.append('tspan').attr('dy',4).attr('font-size',10.5).text('CAMS'); });
yLabel(69, 479, t=>{ t.append('tspan').text('(μg/m'); t.append('tspan').attr('dy',-5).attr('font-size',11).text('3');
  t.append('tspan').attr('dy',5).text(')'); });

// ---------- Panel (e) ----------
const pe = setupPanel('e');
hGrid(pe, ye, [0,5000], '#b0b0b0', 1);
pe.plot.append('path').datum(flexpart).attr('d', lineXY(ye)).attr('fill','none').attr('stroke','#cd5c73').attr('stroke-width',1.6);
finishPanel(pe);
yAxis(pe, ye, [0,5000], d3.format('d'));
panelLetter(pe,'(e)');
yLabel(17, 580, t=>t.text('FLEXPART'));
yLabel(36, 580, t=>t.text('from Sahara'));
yLabel(55, 580, t=>{ t.append('tspan').text('(s m'); t.append('tspan').attr('dy',-6).attr('font-size',10.5).text('-3');
  t.append('tspan').attr('dy',6).text(' kg'); t.append('tspan').attr('dy',-6).attr('font-size',10.5).text('-1');
  t.append('tspan').attr('dy',6).text(')'); });

// ---------- Panel (f) ----------
const pf = setupPanel('f');
hGrid(pf, yf, [0,1], '#cccccc', 2);
const areaF = d3.area().x(d=>x(d[0])).y0(yf(0)).y1(d=>yf(d[1]));
pf.plot.append('path').datum(rnFactor).attr('d', areaF).attr('fill','rgb(30,130,230)').attr('opacity',0.12);
pf.plot.append('path').datum(n90Factor).attr('d', areaF).attr('fill','rgb(225,60,60)').attr('opacity',0.15);
pf.plot.append('path').datum(pFT).attr('d', areaF).attr('fill','rgb(100,98,116)').attr('opacity',0.36);
pf.plot.append('path').datum(rnFactor).attr('d', lineXY(yf)).attr('fill','none').attr('stroke','#1a7fe0').attr('stroke-width',1.2);
pf.plot.append('path').datum(n90Factor).attr('d', lineXY(yf)).attr('fill','none').attr('stroke','#e00000').attr('stroke-width',1.2);
pf.plot.append('path').datum(pFT).attr('d', lineXY(yf)).attr('fill','none').attr('stroke','#000').attr('stroke-width',1.6).attr('stroke-dasharray','6,3.5');
finishPanel(pf);
yAxis(pf, yf, [0,1], d=> d===1 ? 'FT' : 'BLI');
panelLetter(pf,'(f)');
yLabel(60, 683, t=>t.text('P(FT)'));

// x tick labels
xTickHours.forEach((h,i)=>{
  svg.append('text').attr('x',x(h)).attr('y',743).attr('text-anchor','middle').attr('font-family',FONT).attr('font-size',16).text(xTickTimes[i]);
  svg.append('text').attr('x',x(h)).attr('y',760).attr('text-anchor','middle').attr('font-family',FONT).attr('font-size',16).text(xTickDates[i]);
});
svg.append('text').attr('x',(X0+X1)/2).attr('y',779).attr('text-anchor','middle').attr('font-family',FONT).attr('font-size',16).text('Time UTC');

// ---------- Legends ----------
const LX = 1127, HX0 = 1133, HX1 = 1163, TX = 1174;
function legendBox(y0,w,h){
  svg.append('rect').attr('x',LX).attr('y',y0).attr('width',w).attr('height',h).attr('rx',3)
    .attr('fill','#fff').attr('stroke','#d4d4d4').attr('stroke-width',1);
}
function legText(y, build, font, size){
  const t = svg.append('text').attr('x',TX).attr('y',y).attr('dy','0.35em')
    .attr('font-family',font||LFONT).attr('font-size',size||14.5);
  if (typeof build === 'string') t.text(build); else build(t);
}
function legLine(y, color, w, dash, op){
  svg.append('line').attr('x1',HX0).attr('x2',HX1).attr('y1',y).attr('y2',y)
    .attr('stroke',color).attr('stroke-width',w||1.5).attr('stroke-dasharray',dash||null).attr('opacity',op||1);
}
// (a)
legendBox(39,146,112);
legLine(50.7,'#a9d18e',1.6); legText(50.7,'4h MA INP');
svg.append('rect').attr('x',1146).attr('y',70.3).attr('width',4.5).attr('height',4.5).attr('fill','#5f9f24');
legText(72.3,'INP');
svg.append('rect').attr('x',1146).attr('y',91.3).attr('width',4.5).attr('height',4.5).attr('fill','#e0531d');
legText(93.3,'flaged INP');
svg.append('rect').attr('x',HX0).attr('y',110).attr('width',30).attr('height',10.5).attr('fill','#a9d18e').attr('opacity',0.35);
legText(115, t=>{ t.append('tspan').text('4h MA ±'); t.append('tspan').attr('font-style','italic').text('σ'); });
const ebl = svg.append('g').attr('stroke','#8a8a8a').attr('stroke-width',1);
ebl.append('line').attr('x1',1148).attr('x2',1148).attr('y1',129).attr('y2',144.5);
ebl.append('line').attr('x1',1145).attr('x2',1151).attr('y1',129).attr('y2',129);
ebl.append('line').attr('x1',1145).attr('x2',1151).attr('y1',144.5).attr('y2',144.5);
legText(136.7, t=>{ t.append('tspan').text('±'); t.append('tspan').attr('font-style','italic').text('σ');
  t.append('tspan').attr('xml:space','preserve').text('  errorbar'); });
// (b)
legendBox(222,109,109);
ceilHeights.forEach((lab,i)=>{ const y = 233.3 + i*21.5; legLine(y, ceilColors[i], 1.5, null, 0.55); legText(y, lab); });
// (c)
legendBox(339,109,90);
legLine(350.7,'#1a86e0',1.5,null,0.65); legText(350.7,'460 nm');
legLine(372.3,'#39e600',1.5,null,0.9); legText(372.3,'525 nm');
legLine(393.3,'#e01010',1.5,null,0.6); legText(393.3,'631 nm');
svg.append('rect').attr('x',HX0).attr('y',410).attr('width',30).attr('height',10.5).attr('fill','#d6d6d6');
legText(415, t=>{ t.append('tspan').text('α'); t.append('tspan').attr('dy',4).attr('font-size',8.5).text('SSA');
  t.append('tspan').attr('dy',-4).text(' < 0'); }, FONT, 15);
// (d)
legendBox(441.7,157,47.3);
legLine(453.3,'#87c6ec',1.5); legText(453.3,'CAMS');
legLine(475,'#6a5acd',1.3,'2,1.5'); legText(475,'threshold SDE');
// (e)
legendBox(544,131,26);
legLine(556,'#cd5c73',1.6,null,0.7);
legText(556,'FLEXPART',"'DejaVu Sans Condensed','Liberation Sans Narrow','DejaVu Sans',sans-serif",13.5);
// (f)
legendBox(646,126,69.7);
legLine(657.7,'#1a7fe0',1.5); legText(657.7,'Rn factor');
legLine(679.3,'#e00000',1.5); legText(679.3, t=>{ t.append('tspan').text('N'); t.append('tspan').attr('dy',4).attr('font-size',10.5).text('90');
  t.append('tspan').attr('dy',-4).text(' factor'); });
legLine(700.7,'#000',1.5,'5,3.5'); legText(700.7, t=>{ t.append('tspan').text('P'); t.append('tspan').attr('dy',4).attr('font-size',10.5).attr('font-style','italic').text('FT'); });
</script>
</body></html>
